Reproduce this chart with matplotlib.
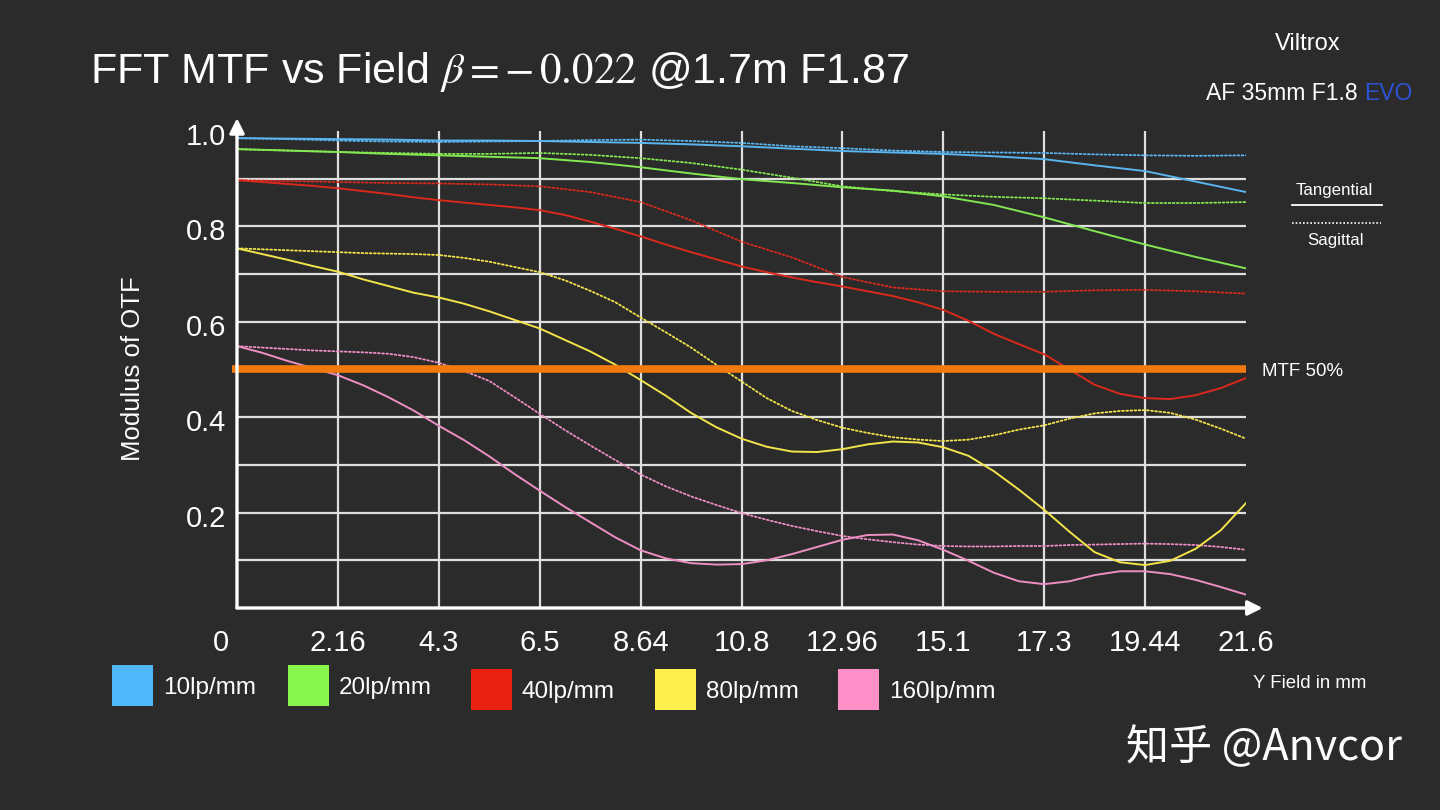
import matplotlib
matplotlib.use("Agg")
import matplotlib.pyplot as plt
import matplotlib.transforms as mtransforms
from matplotlib.patches import Rectangle
from matplotlib.lines import Line2D

plt.rcParams['font.family'] = ['Liberation Sans', 'DejaVu Sans']
plt.rcParams['mathtext.fontset'] = 'stix'

# ---------------- data ----------------
# field positions (mm); gentle curves read every 1.08 mm, curvier ones every 0.54 mm
field_coarse = [0, 1.08, 2.16, 3.24, 4.32, 5.4, 6.48, 7.56, 8.64, 9.72, 10.8,
                11.88, 12.96, 14.04, 15.12, 16.2, 17.28, 18.36, 19.44, 20.52, 21.6]
field_fine = [0, 0.54, 1.08, 1.62, 2.16, 2.7, 3.24, 3.78, 4.32, 4.86, 5.4,
              5.94, 6.48, 7.02, 7.56, 8.1, 8.64, 9.18, 9.72, 10.26, 10.8,
              11.34, 11.88, 12.42, 12.96, 13.5, 14.04, 14.58, 15.12, 15.66, 16.2,
              16.74, 17.28, 17.82, 18.36, 18.9, 19.44, 19.98, 20.52, 21.06, 21.6]

# 10 lp/mm (coarse)
t10 = [0.985, 0.984, 0.983, 0.982, 0.980, 0.980, 0.979, 0.977, 0.975, 0.972, 0.968,
       0.963, 0.958, 0.955, 0.952, 0.947, 0.941, 0.928, 0.916, 0.894, 0.872]
s10 = [0.985, 0.983, 0.980, 0.978, 0.977, 0.978, 0.979, 0.981, 0.982, 0.979, 0.975,
       0.968, 0.964, 0.959, 0.956, 0.955, 0.954, 0.951, 0.949, 0.948, 0.949]
# 20 lp/mm (coarse)
t20 = [0.962, 0.959, 0.956, 0.952, 0.949, 0.946, 0.943, 0.935, 0.924, 0.911, 0.899,
       0.891, 0.882, 0.875, 0.863, 0.845, 0.819, 0.790, 0.762, 0.736, 0.712]
s20 = [0.962, 0.959, 0.956, 0.954, 0.952, 0.952, 0.954, 0.950, 0.943, 0.933, 0.919,
       0.902, 0.884, 0.874, 0.867, 0.862, 0.859, 0.854, 0.849, 0.849, 0.851]
# 40 lp/mm (tangential fine, sagittal coarse)
t40 = [0.897, 0.893, 0.889, 0.885, 0.880, 0.874, 0.868, 0.861, 0.855, 0.850, 0.845,
       0.840, 0.834, 0.824, 0.810, 0.795, 0.779, 0.762, 0.746, 0.731, 0.716,
       0.704, 0.693, 0.683, 0.674, 0.664, 0.654, 0.641, 0.625, 0.602, 0.575,
       0.553, 0.532, 0.500, 0.468, 0.449, 0.440, 0.438, 0.446, 0.461, 0.482]
s40 = [0.897, 0.895, 0.893, 0.891, 0.890, 0.888, 0.884, 0.872, 0.851, 0.813, 0.768,
       0.735, 0.694, 0.672, 0.664, 0.663, 0.663, 0.666, 0.667, 0.664, 0.659]
# 80 lp/mm (fine)
t80 = [0.754, 0.742, 0.730, 0.717, 0.705, 0.689, 0.675, 0.661, 0.651, 0.638, 0.622,
       0.604, 0.586, 0.562, 0.538, 0.510, 0.478, 0.445, 0.409, 0.379, 0.355,
       0.338, 0.328, 0.327, 0.333, 0.343, 0.349, 0.347, 0.337, 0.319, 0.287,
       0.248, 0.206, 0.160, 0.117, 0.096, 0.090, 0.099, 0.124, 0.163, 0.220]
s80 = [0.754, 0.752, 0.750, 0.748, 0.746, 0.744, 0.743, 0.742, 0.740, 0.734, 0.726,
       0.715, 0.704, 0.687, 0.665, 0.641, 0.609, 0.578, 0.546, 0.510, 0.475,
       0.440, 0.413, 0.394, 0.378, 0.367, 0.358, 0.353, 0.350, 0.353, 0.362,
       0.374, 0.383, 0.397, 0.408, 0.413, 0.415, 0.409, 0.395, 0.376, 0.355]
# 160 lp/mm (fine)
t160 = [0.549, 0.535, 0.518, 0.503, 0.488, 0.467, 0.442, 0.414, 0.382, 0.352, 0.318,
        0.281, 0.246, 0.212, 0.180, 0.148, 0.121, 0.104, 0.094, 0.091, 0.092,
        0.100, 0.113, 0.128, 0.143, 0.153, 0.154, 0.142, 0.122, 0.099, 0.074,
        0.056, 0.050, 0.056, 0.069, 0.077, 0.077, 0.071, 0.059, 0.044, 0.028]
s160 = [0.549, 0.546, 0.543, 0.540, 0.538, 0.536, 0.533, 0.526, 0.514, 0.497, 0.476,
        0.442, 0.407, 0.373, 0.341, 0.310, 0.280, 0.255, 0.234, 0.216, 0.199,
        0.185, 0.172, 0.161, 0.151, 0.144, 0.138, 0.133, 0.130, 0.129, 0.129,
        0.130, 0.130, 0.132, 0.133, 0.134, 0.135, 0.134, 0.132, 0.128, 0.122]

series_labels = ['10lp/mm', '20lp/mm', '40lp/mm', '80lp/mm', '160lp/mm']
tangential = [(field_coarse, t10), (field_coarse, t20), (field_fine, t40),
              (field_fine, t80), (field_fine, t160)]
sagittal = [(field_coarse, s10), (field_coarse, s20), (field_coarse, s40),
            (field_fine, s80), (field_fine, s160)]

x_ticks = [0, 2.16, 4.32, 6.48, 8.64, 10.8, 12.96, 15.12, 17.28, 19.44, 21.6]
x_tick_labels = ['0', '2.16', '4.3', '6.5', '8.64', '10.8', '12.96', '15.1', '17.3', '19.44', '21.6']
y_ticks = [0.2, 0.4, 0.6, 0.8, 1.0]
y_tick_labels = ['0.2', '0.4', '0.6', '0.8', '1.0']
y_grid = [0.1, 0.2, 0.3, 0.4, 0.6, 0.7, 0.8, 0.9]
mtf_threshold = 0.5

# ---------------- styles ----------------
BG = '#2b2b2b'
line_colors = ['#5ab4ee', '#84e650', '#d8291c', '#f2e44a', '#ee8fc4']
legend_colors = ['#4fb8fb', '#88f54c', '#ea2010', '#fff050', '#ff90c8']
GRID = '#dedede'
W, H = 1440, 810

fig = plt.figure(figsize=(W / 100, H / 100), dpi=100, facecolor=BG)
ax = fig.add_axes([237 / W, 202 / H, 1009 / W, 477 / H])
ax.set_facecolor(BG)
ax.set_xlim(0, 21.6)
ax.set_ylim(0, 1.0)
for sp in ax.spines.values():
    sp.set_visible(False)
ax.set_xticks([])
ax.set_yticks([])

# grid
ax.hlines(y_grid, 0, 21.6, colors=GRID, lw=1.6, zorder=1)
ax.vlines(x_ticks[1:-1], 0, 1.0, colors=GRID, lw=1.6, zorder=1)

# curves
for c, (tx, ty), (sx, sy) in zip(line_colors, tangential, sagittal):
    ax.plot(sx, sy, color=c, lw=1.3, ls=(0, (1, 1.3)), zorder=3,
            dash_capstyle='round')
    ax.plot(tx, ty, color=c, lw=1.4, zorder=4, solid_joinstyle='round')

# MTF 50% line
ax.plot([-0.1, 21.6], [mtf_threshold, mtf_threshold], color='#f27a0c', lw=5.5,
        zorder=5, solid_capstyle='butt', clip_on=False)

# axes with arrows
ax.annotate('', xy=(1.0165, 0), xytext=(0, 0), xycoords='axes fraction',
            arrowprops=dict(arrowstyle='-|>', color='white', lw=2.4,
                            mutation_scale=22, shrinkA=0, shrinkB=0), zorder=6)
ax.annotate('', xy=(0, 1.027), xytext=(0, 0), xycoords='axes fraction',
            arrowprops=dict(arrowstyle='-|>', color='white', lw=2.4,
                            mutation_scale=22, shrinkA=0, shrinkB=0), zorder=6)

# tick labels
xtrans = mtransforms.blended_transform_factory(ax.transData, ax.transAxes)
for v, lab in zip(x_ticks, x_tick_labels):
    dx = -16 if v == 0 else 0
    tr = mtransforms.offset_copy(xtrans, fig=fig, x=dx * 0.72, y=-35 * 0.72, units='points')
    ax.text(v, 0, lab, transform=tr, ha='center', va='center', color='white', fontsize=21)
ytrans = mtransforms.blended_transform_factory(ax.transAxes, ax.transData)
for v, lab in zip(y_ticks, y_tick_labels):
    tr = mtransforms.offset_copy(ytrans, fig=fig, x=-11 * 0.72, y=-6 * 0.72, units='points')
    ax.text(0, v, lab, transform=tr, ha='right', va='center', color='white', fontsize=21)

# title and texts (figure pixel coordinates)
def fx(px):
    return px / W

def fy(py):
    return 1 - py / H

fig.text(fx(90), fy(83), r'FFT MTF vs Field $\beta = -\,0.022$ @1.7m F1.87',
         color='white', fontsize=31, ha='left', va='baseline')
fig.text(fx(1308), fy(44), 'Viltrox', color='white', fontsize=17, ha='center', va='center')
fig.text(fx(1206), fy(94), 'AF 35mm F1.8', color='white', fontsize=16.5, ha='left', va='center')
fig.text(fx(1413), fy(94), 'EVO', color='#2d52d6', fontsize=16.5, ha='right', va='center')
fig.text(fx(133), fy(369), 'Modulus of OTF', color='white', fontsize=18.5,
         rotation=90, ha='center', va='center')
fig.text(fx(1262), fy(371), 'MTF 50%', color='white', fontsize=13.5, ha='left', va='center')
fig.text(fx(1334), fy(191), 'Tangential', color='white', fontsize=12.2, ha='center', va='center')
fig.text(fx(1336), fy(240), 'Sagittal', color='white', fontsize=12.2, ha='center', va='center')
fig.add_artist(Line2D([fx(1292), fx(1382)], [fy(205), fy(205)], color='white', lw=1.3))
fig.add_artist(Line2D([fx(1292), fx(1381)], [fy(223), fy(223)], color='white', lw=1.2,
                      ls=(0, (1, 1.2))))
fig.text(fx(1310), fy(684), 'Y Field in mm', color='white', fontsize=13.4, ha='center', va='center')

# legend squares
legend_sq_x = [112, 288, 471, 655, 838]
legend_sq_y = [665, 665, 669, 669, 669]
SQ = 41
for lx, ly, col, lab in zip(legend_sq_x, legend_sq_y, legend_colors, series_labels):
    fig.add_artist(Rectangle((fx(lx), fy(ly + SQ)), SQ / W, SQ / H,
                             transform=fig.transFigure, facecolor=col, edgecolor='none'))
    fig.text(fx(lx + SQ + 10), fy(ly + 23), lab, color='white', fontsize=17.5,
             ha='left', va='center')

# watermark
fig.text(fx(1402), fy(748), '知乎 @Anvcor', color='white', fontsize=31,
         family=['Noto Sans CJK SC', 'DejaVu Sans'], ha='right', va='center')

fig.savefig('out.png', dpi=100, facecolor=BG)
